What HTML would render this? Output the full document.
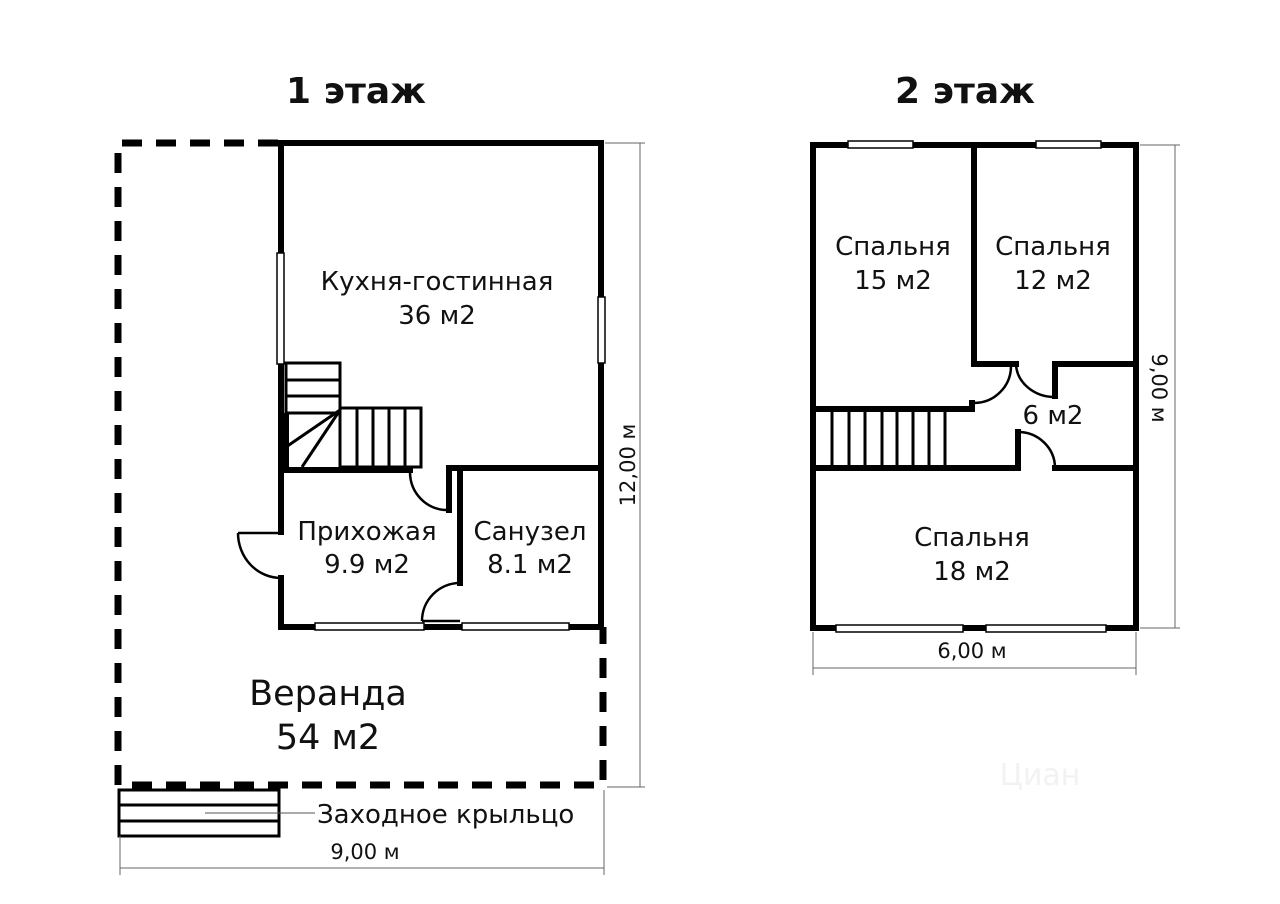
<!DOCTYPE html>
<html><head><meta charset="utf-8"><style>
html,body{margin:0;padding:0;background:#fff;}
svg{display:block;}
text{font-family:"DejaVu Sans","Liberation Sans",sans-serif;fill:#111;}
</style></head><body>
<svg width="1280" height="904" viewBox="0 0 1280 904" xmlns="http://www.w3.org/2000/svg">
<rect width="1280" height="904" fill="#fff"/>
<text x="356" y="103" font-size="36" font-weight="bold" text-anchor="middle">1 этаж</text>
<text x="965" y="103" font-size="36" font-weight="bold" text-anchor="middle">2 этаж</text>

<g stroke="#000" stroke-width="7" fill="none" stroke-dasharray="20 14">
<path d="M278 143 H118 V785 H603 V627"/>
</g>
<g stroke="#000" stroke-width="3" fill="#fff">
<rect x="119" y="790" width="160" height="46"/>
<line x1="119" y1="805" x2="279" y2="805"/>
<line x1="119" y1="821" x2="279" y2="821"/>
</g>
<line x1="205" y1="813" x2="315" y2="813" stroke="#555" stroke-width="1"/>
<text x="317" y="823" font-size="26">Заходное крыльцо</text>

<g stroke="#000" stroke-width="6" fill="none" stroke-linecap="square">
<path d="M281 253 V143 H601 V297"/>
<path d="M601 363 V627 H281 V578"/>
<path d="M281 532 V364"/>
<path d="M286 470 H410"/>
<path d="M449 510 V468 H601"/>
<path d="M460 470 V583"/>
</g>
<g fill="#fff" stroke="#000" stroke-width="1.5">
<rect x="277" y="253" width="7" height="111"/>
<rect x="598" y="297" width="7" height="66"/>
<rect x="315" y="623" width="109" height="7"/>
<rect x="462" y="623" width="107" height="7"/>
</g>
<g stroke="#000" stroke-width="3" fill="none">
<rect x="286" y="363" width="54" height="50"/>
<line x1="286" y1="380" x2="340" y2="380"/>
<line x1="286" y1="396" x2="340" y2="396"/>
<rect x="340" y="408" width="81" height="59"/>
<line x1="357" y1="408" x2="357" y2="467"/>
<line x1="373" y1="408" x2="373" y2="467"/>
<line x1="389" y1="408" x2="389" y2="467"/>
<line x1="405" y1="408" x2="405" y2="467"/>
<line x1="340" y1="410" x2="286" y2="447"/>
<line x1="340" y1="410" x2="302" y2="467"/>
<line x1="286" y1="413" x2="286" y2="467" stroke-width="6"/>
</g>
<g stroke="#000" stroke-width="2.5" fill="none">
<path d="M410 472 A37 38 0 0 0 447 510"/>
<path d="M238 533 H281"/>
<path d="M238 533 A43 45 0 0 0 281 578"/>
<path d="M460 583 A38 38 0 0 0 422 621"/>
<path d="M422 621 H460"/>
</g>
<g font-size="26" text-anchor="middle">
<text x="437" y="290">Кухня-гостинная</text>
<text x="437" y="324">36 м2</text>
<text x="367" y="540">Прихожая</text>
<text x="367" y="573">9.9 м2</text>
<text x="530" y="540">Санузел</text>
<text x="530" y="573">8.1 м2</text>
</g>
<text x="328" y="705" font-size="35" text-anchor="middle">Веранда</text>
<text x="328" y="749" font-size="35" text-anchor="middle">54 м2</text>
<g stroke="#666" stroke-width="1" fill="none">
<line x1="605" y1="143" x2="645" y2="143"/>
<line x1="607" y1="787" x2="645" y2="787"/>
<line x1="640" y1="143" x2="640" y2="787"/>
<line x1="120" y1="836" x2="120" y2="875"/>
<line x1="604" y1="790" x2="604" y2="875"/>
<line x1="120" y1="868" x2="604" y2="868"/>
</g>
<text x="0" y="0" font-size="21" text-anchor="middle" transform="translate(635,465) rotate(-90)">12,00 м</text>
<text x="365" y="859" font-size="21" text-anchor="middle">9,00 м</text>

<g stroke="#000" stroke-width="6" fill="none" stroke-linecap="square">
<rect x="813" y="145" width="323" height="483"/>
<path d="M974 145 V364 H1016"/>
<path d="M1055 364 H1136"/>
<path d="M1055 364 V396"/>
<path d="M813 409 H972 V403"/>
<path d="M813 468 H1018 V432"/>
<path d="M1055 468 H1136"/>
</g>
<g fill="#fff" stroke="#000" stroke-width="1.5">
<rect x="848" y="141" width="65" height="7"/>
<rect x="1036" y="141" width="65" height="7"/>
<rect x="836" y="625" width="127" height="7"/>
<rect x="986" y="625" width="120" height="7"/>
</g>
<g stroke="#000" stroke-width="3" fill="none">
<line x1="832" y1="410" x2="832" y2="467"/>
<line x1="849" y1="410" x2="849" y2="467"/>
<line x1="865" y1="410" x2="865" y2="467"/>
<line x1="882" y1="410" x2="882" y2="467"/>
<line x1="897" y1="410" x2="897" y2="467"/>
<line x1="913" y1="410" x2="913" y2="467"/>
<line x1="929" y1="410" x2="929" y2="467"/>
<line x1="945" y1="410" x2="945" y2="467"/>
</g>
<g stroke="#000" stroke-width="2.5" fill="none">
<path d="M1016 364 A39 34 0 0 0 1055 397"/>
<path d="M1011 366 A37 37 0 0 1 974 403"/>
<path d="M1018 432 A37 36 0 0 1 1055 468"/>
</g>
<g font-size="26" text-anchor="middle">
<text x="893" y="255">Спальня</text>
<text x="893" y="289">15 м2</text>
<text x="1053" y="255">Спальня</text>
<text x="1053" y="289">12 м2</text>
<text x="1053" y="424">6 м2</text>
<text x="972" y="546">Спальня</text>
<text x="972" y="580">18 м2</text>
</g>
<g stroke="#666" stroke-width="1" fill="none">
<line x1="1140" y1="145" x2="1180" y2="145"/>
<line x1="1140" y1="628" x2="1180" y2="628"/>
<line x1="1175" y1="145" x2="1175" y2="628"/>
<line x1="813" y1="632" x2="813" y2="675"/>
<line x1="1136" y1="632" x2="1136" y2="675"/>
<line x1="813" y1="668" x2="1136" y2="668"/>
</g>
<text x="0" y="0" font-size="21" text-anchor="middle" transform="translate(1152,388) rotate(90)">9,00 м</text>
<text x="972" y="658" font-size="21" text-anchor="middle">6,00 м</text>
<text x="1040" y="785" font-size="30" text-anchor="middle" style="fill:#f2f2f2">Циан</text>
</svg>
</body></html>
